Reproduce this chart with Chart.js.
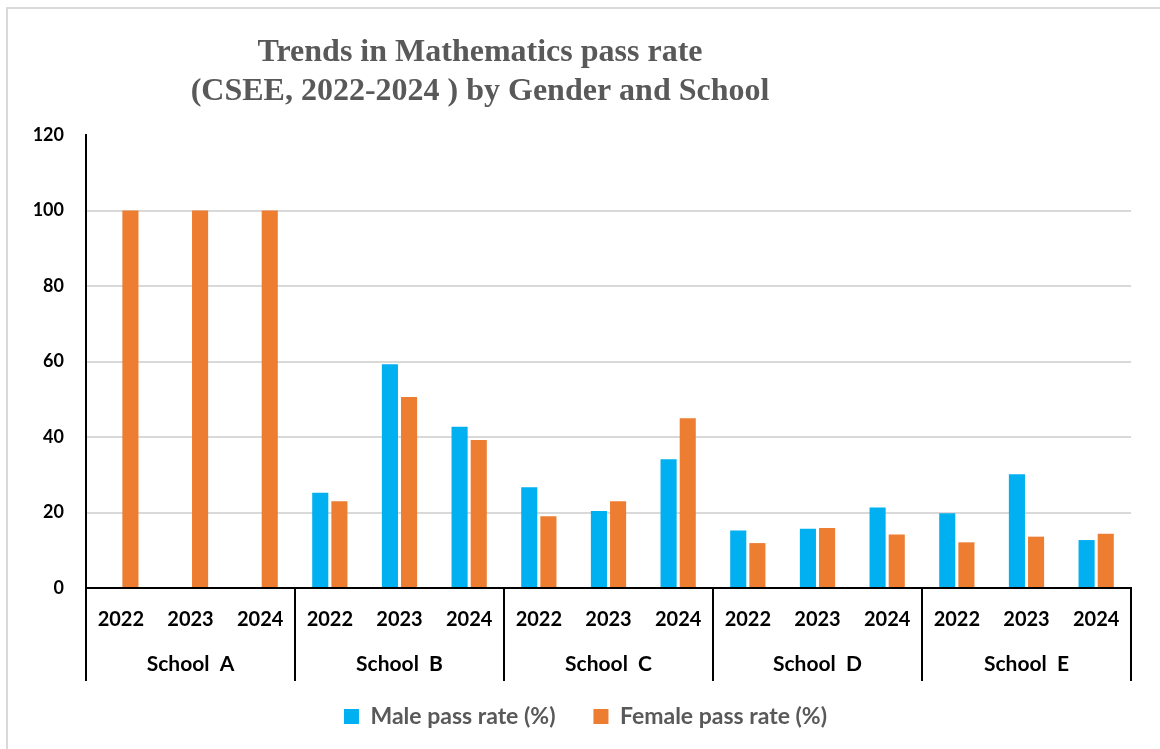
<!DOCTYPE html>
<html>
<head>
<meta charset="utf-8">
<script src="https://cdn.jsdelivr.net/npm/chart.js@4"></script>
<style>
  html, body { margin: 0; padding: 0; background: #fff; overflow: hidden; }
  #wrap { position: relative; width: 1160px; height: 749px; }
  #frame { position: absolute; left: 6px; top: 7px; width: 1200px; height: 800px; border: 2px solid #d9d9d9; }
  canvas { position: absolute; left: 0; top: 0; }
</style>
</head>
<body>
<div id="wrap">
  <div id="frame"></div>
  <canvas id="passChart" width="1160" height="749"></canvas>
</div>
<script>
const schools = ['School  A', 'School  B', 'School  C', 'School  D', 'School  E'];
const years = ['2022', '2023', '2024'];
const malePass = [0, 0, 0, 25.2, 59.3, 42.7, 26.7, 20.4, 34.1, 15.2, 15.7, 21.3, 19.8, 30.1, 12.7];
const femalePass = [100, 100, 100, 23.0, 50.6, 39.2, 19.0, 23.0, 45.0, 11.9, 15.9, 14.2, 12.1, 13.6, 14.4];
const yTicks = [0, 20, 40, 60, 80, 100, 120];
const titleLines = ['Trends in Mathematics pass rate', '(CSEE, 2022-2024 ) by Gender and School'];

document.addEventListener('DOMContentLoaded', function () {
    Chart.defaults.font.family = 'Lato';

    // one year label per bar group, repeated for every school
    let labels = [];
    schools.forEach(function () { years.forEach(function (y) { labels.push(y); }); });

    // title + second level of the x axis (school names and separators)
    const extras = {
        id: 'extras',
        afterLayout(chart) {
            // legend sits a bit right of the canvas centre in the original
            chart.legend.left += 30;
        },
        afterDraw(chart) {
            const ctx = chart.ctx;
            const x = chart.scales.x;
            ctx.save();
            ctx.fillStyle = '#595959';
            ctx.font = 'bold 32px "Liberation Serif"';
            ctx.textAlign = 'center';
            ctx.textBaseline = 'middle';
            ctx.fillText(titleLines[0], 480, 53);
            ctx.fillText(titleLines[1], 480, 92);

            ctx.strokeStyle = '#000';
            ctx.lineWidth = 2;
            ctx.fillStyle = '#000';
            ctx.font = 'bold 21px Lato';
            const n = years.length;
            for (let i = 0; i <= schools.length; i++) {
                let bx;
                if (i === 0) bx = x.left;
                else if (i === schools.length) bx = x.right;
                else bx = (x.getPixelForValue(i * n - 1) + x.getPixelForValue(i * n)) / 2;
                ctx.beginPath();
                ctx.moveTo(bx, x.top);
                ctx.lineTo(bx, x.top + 93);
                ctx.stroke();
                if (i < schools.length) {
                    const cx = (x.getPixelForValue(i * n) + x.getPixelForValue(i * n + n - 1)) / 2;
                    ctx.fillText(schools[i], cx, x.top + 76);
                }
            }
            ctx.restore();
        }
    };

    let ctx = document.getElementById('passChart').getContext('2d');
    let passChart = new Chart(ctx, {
        type: 'bar',
        data: {
            labels: labels,
            datasets: [{
                label: 'Male pass rate (%)',
                data: malePass,
                backgroundColor: '#00B0F0',
                categoryPercentage: 0.55,
                barPercentage: 0.84
            }, {
                label: 'Female pass rate (%)',
                data: femalePass,
                backgroundColor: '#ED7D31',
                categoryPercentage: 0.55,
                barPercentage: 0.84
            }]
        },
        options: {
            responsive: false,
            animation: false,
            layout: { padding: { top: 135, left: 10, right: 29, bottom: 11 } },
            plugins: {
                title: { display: false },
                tooltip: { enabled: false },
                legend: {
                    position: 'bottom',
                    labels: {
                        boxWidth: 15,
                        boxHeight: 15,
                        padding: 38,
                        color: '#595959',
                        font: { size: 23, weight: 'bold' }
                    }
                }
            },
            scales: {
                x: {
                    afterFit: function (s) { s.height = 79; },
                    grid: { display: false, drawTicks: false },
                    border: { color: '#000', width: 2 },
                    ticks: { color: '#000', padding: 20, maxRotation: 0, autoSkip: false, font: { size: 20, weight: 'bold' } }
                },
                y: {
                    min: 0,
                    max: 120,
                    afterFit: function (s) { s.width = 76; },
                    afterBuildTicks: function (s) { s.ticks = yTicks.map(function (v) { return { value: v }; }); },
                    grid: {
                        drawTicks: false,
                        lineWidth: 2,
                        color: function (c) { return c.tick && c.tick.value === 120 ? 'rgba(0,0,0,0)' : '#d9d9d9'; }
                    },
                    border: { color: '#000', width: 2 },
                    ticks: { color: '#000', padding: 22, font: { size: 18, weight: 'bold' } }
                }
            }
        },
        plugins: [extras]
    });
});
</script>
</body>
</html>
